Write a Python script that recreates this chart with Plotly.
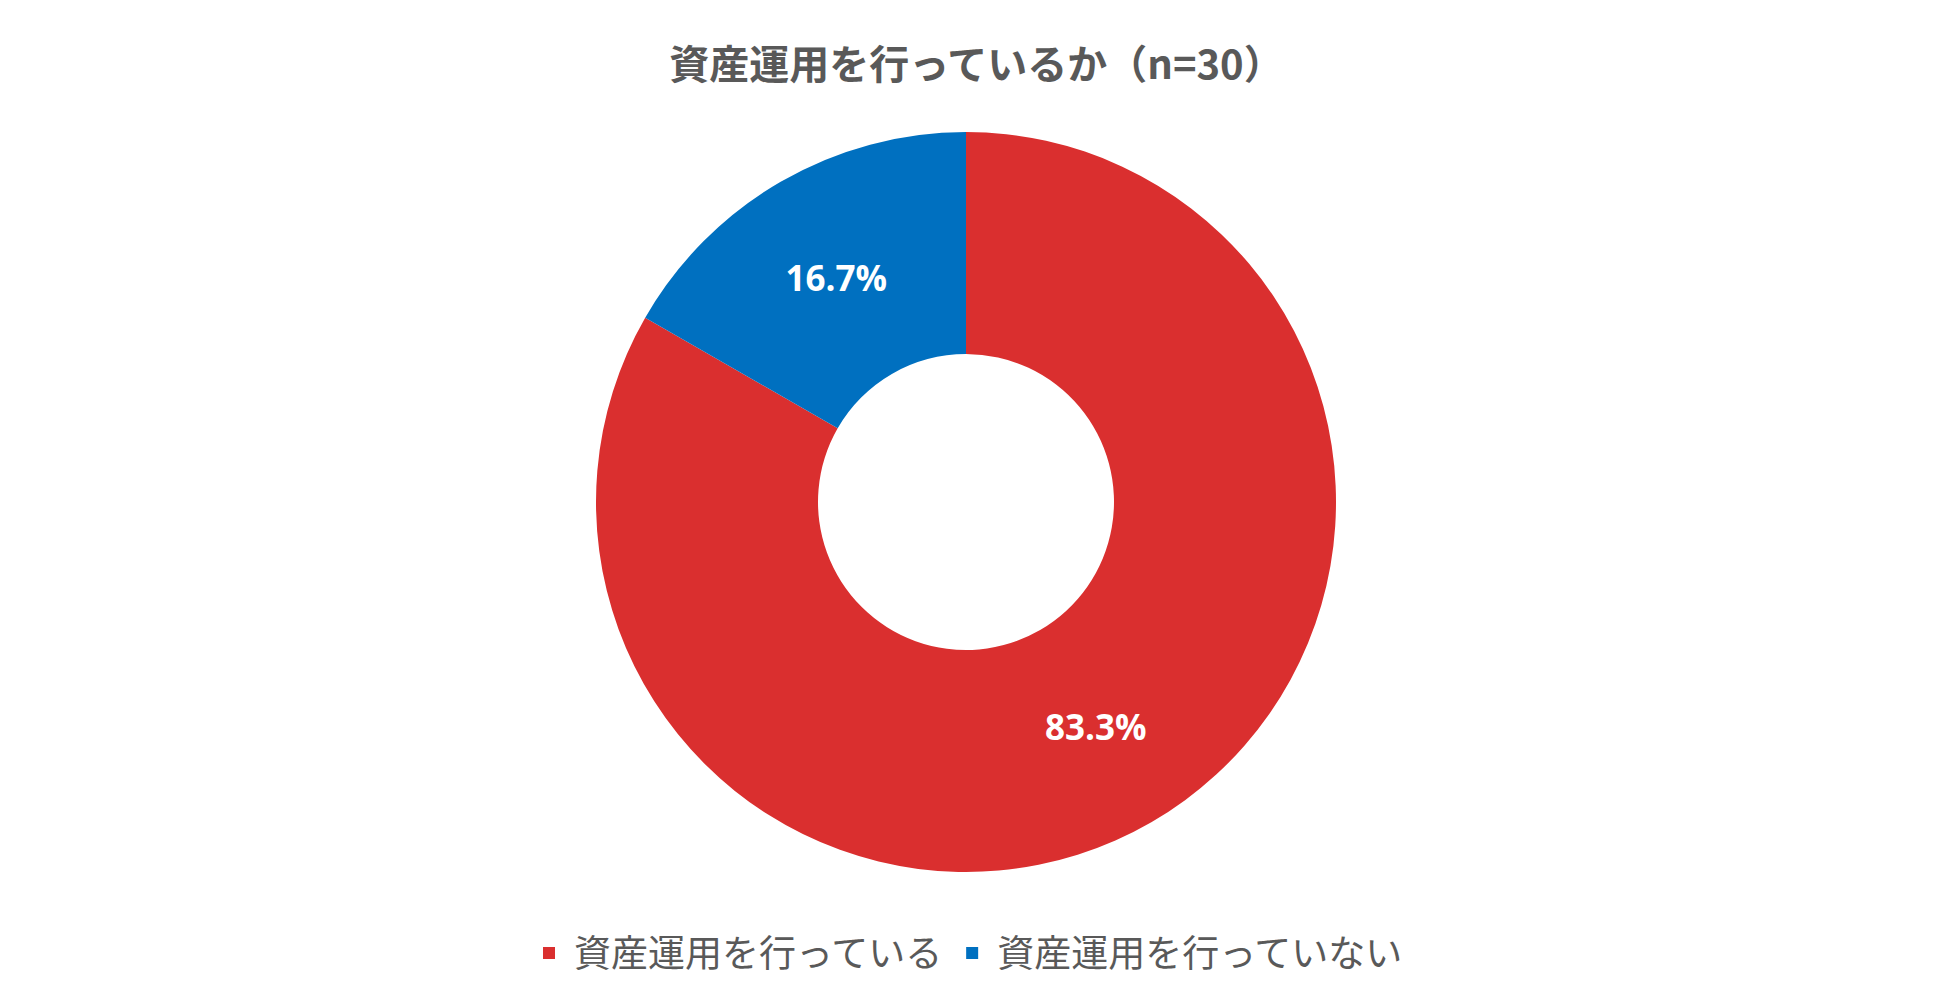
import plotly.graph_objects as go

labels = ["資産運用を行っている", "資産運用を行っていない"]
values = [83.3, 16.7]
colors = ["#DA2F2F", "#0070C0"]
title_text = "資産運用を行っているか（n=30）"

fig = go.Figure(
    go.Pie(
        labels=labels,
        values=values,
        hole=0.4,
        sort=False,
        direction="clockwise",
        rotation=0,
        marker=dict(colors=colors, line=dict(width=0)),
        texttemplate="%{value:.1f}%",
        textposition="inside",
        insidetextorientation="horizontal",
        textfont=dict(family="Open Sans", size=35, color="white", weight="bold"),
        hoverinfo="label+value",
    )
)

fig.update_layout(
    width=1953,
    height=1002,
    paper_bgcolor="white",
    plot_bgcolor="white",
    margin=dict(l=0, r=21, t=132, b=130),
    title=dict(
        text=title_text,
        x=0.5,
        xanchor="center",
        y=0.935,
        yanchor="middle",
        font=dict(family="Noto Sans CJK JP", size=40, color="#595959", weight="bold"),
    ),
    showlegend=True,
    legend=dict(
        orientation="h",
        x=0.5,
        xanchor="center",
        y=-0.11,
        yanchor="middle",
        font=dict(family="Noto Sans CJK JP", size=37, color="#595959"),
        itemwidth=40,
        traceorder="normal",
    ),
)

fig.write_html("out.html")
